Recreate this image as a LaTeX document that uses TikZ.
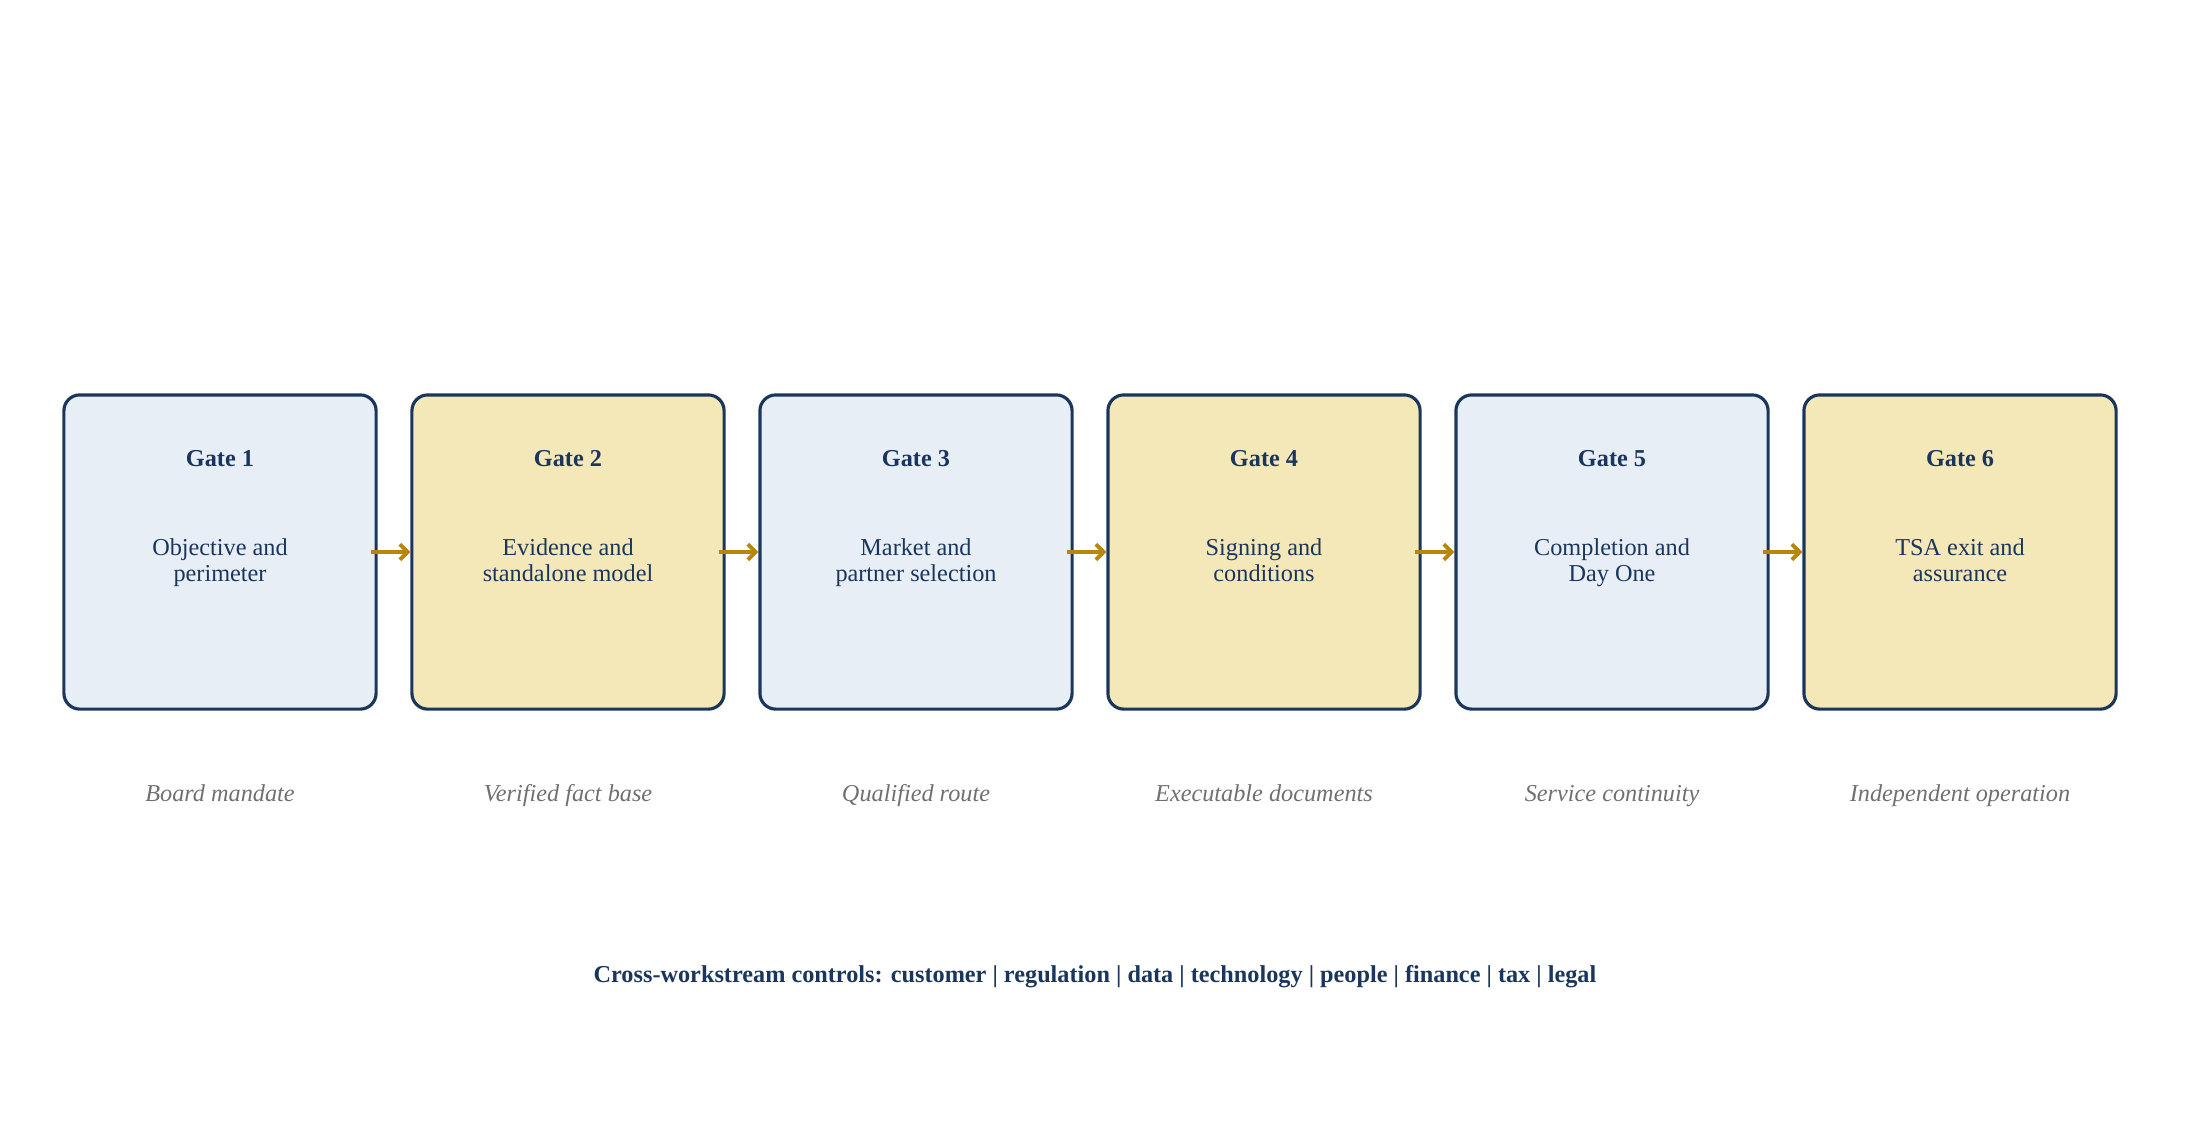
\documentclass[tikz,border=0pt]{standalone}
\usepackage{fontspec}
\setmainfont{Liberation Serif}
\usetikzlibrary{arrows.meta}
\definecolor{navy}{HTML}{1B365D}
\definecolor{paleblue}{HTML}{E7EEF6}
\definecolor{paleyellow}{HTML}{F4E8B8}
\definecolor{gold}{HTML}{B8860B}
\definecolor{capgray}{HTML}{707070}
\tikzset{
gate/.style={draw=navy,line width=0.9pt,rounded corners=4.5pt,minimum width=3.12cm,minimum height=3.14cm},
gatetitle/.style={text=navy,font=\fontsize{6.9}{6.9}\selectfont\bfseries},
gatebody/.style={text=navy,align=center,font=\fontsize{6.9}{7.3}\selectfont,text height=1.6ex,text depth=3.4ex},
outcome/.style={text=capgray,font=\fontsize{6.9}{6.9}\selectfont\itshape,anchor=base},
flow/.style={draw=gold,line width=1.1pt,-{Straight Barb[length=2.2pt,width=4.4pt]},shorten <=-2pt}
}
\begin{document}
\begin{tikzpicture}[x=0.01cm,y=-0.01cm]
\useasboundingbox (0,0) rectangle (2191,1135);
% gates
\foreach\i/\f/\b/\c in {1/paleblue/{Objective and\\perimeter}/Board mandate,
2/paleyellow/{Evidence and\\standalone model}/Verified fact base,
3/paleblue/{Market and\\partner selection}/Qualified route,
4/paleyellow/{Signing and\\conditions}/Executable documents,
5/paleblue/{Completion and\\Day One}/Service continuity,
6/paleyellow/{TSA exit and\\assurance}/Independent operation} {
\node[gate,fill=\f] (g\i) at ({220+(\i-1)*348},552) {};
\node[gatetitle] (t\i) at ({220+(\i-1)*348},459) {Gate \i};
\node[gatebody] (b\i) at ({220+(\i-1)*348},596) {\b};
\node[outcome] (o\i) at ({220+(\i-1)*348},801) {\c};}
% arrows
\foreach\i/\j in {1/2,2/3,3/4,4/5,5/6}
\draw[flow] (g\i.east)--(g\j.west);
\node[gatetitle] (ctrl) at (1095,977) {Cross-workstream controls: customer | regulation | data | technology | people | finance | tax | legal};
\end{tikzpicture}
\end{document}
